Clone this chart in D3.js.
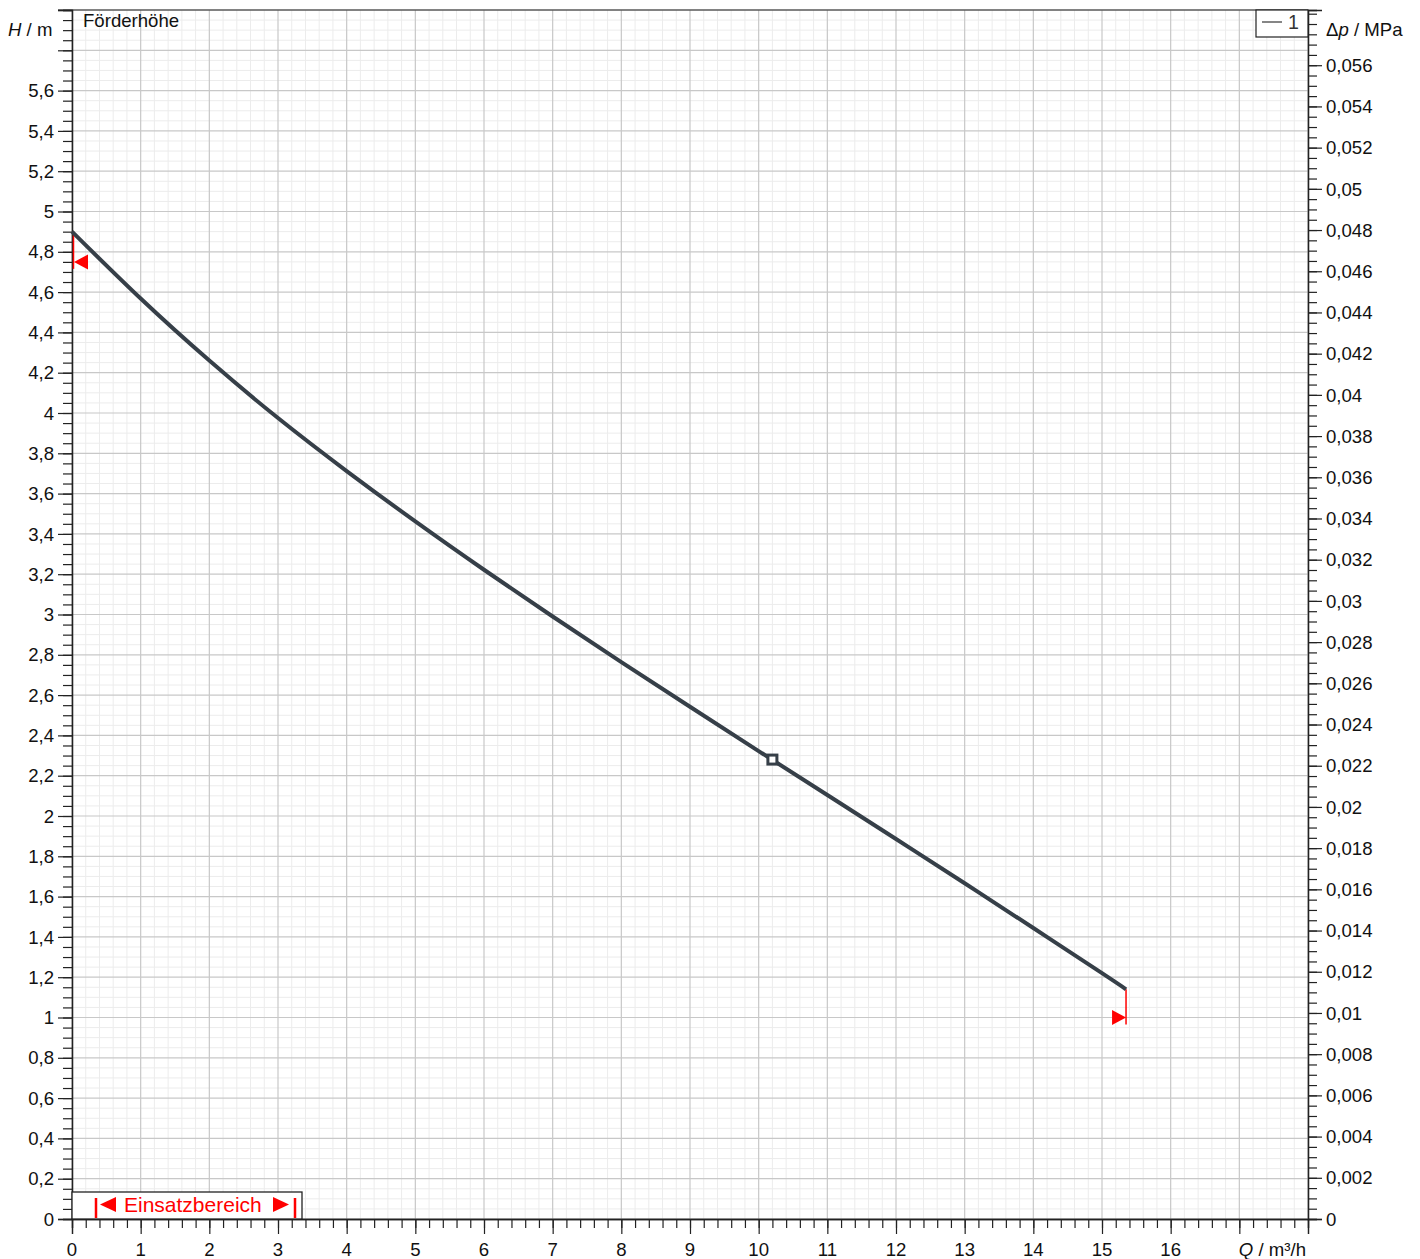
<!DOCTYPE html>
<html><head><meta charset="utf-8">
<script src="https://cdn.jsdelivr.net/npm/d3@7"></script>
<style>body{margin:0;background:#fff}svg{display:block;font-family:"Liberation Sans",Arial,sans-serif}</style>
</head><body><svg id="c" width="1420" height="1259"></svg>
<script>
// Data
const flowQ = [0, 1, 2, 3, 4, 5, 6, 7, 8, 9, 10, 11, 12, 13, 14, 15, 15.35];
const headH = [4.90, 4.568, 4.26, 3.975, 3.712, 3.462, 3.222, 2.99, 2.764, 2.542, 2.322, 2.104, 1.886, 1.666, 1.444, 1.22, 1.14];
const dutyPoint = [10.2, 2.28];
const rangeMin = {q: 0, h: 4.75};
const rangeMax = {q: 15.35, h: 1.0};
const xTickLabels = [0,1,2,3,4,5,6,7,8,9,10,11,12,13,14,15,16];
const yTickLabels = [0,0.2,0.4,0.6,0.8,1,1.2,1.4,1.6,1.8,2,2.2,2.4,2.6,2.8,3,3.2,3.4,3.6,3.8,4,4.2,4.4,4.6,4.8,5,5.2,5.4,5.6];
const pTickLabels = d3.range(0, 29).map(i => +(i*0.002).toFixed(3));
const MPA_PER_M = 0.00978;

const svg = d3.select("#c");
const L=72, R=1308, T=10, B=1219;
const x = d3.scaleLinear([0,18],[L,R]);
const y = d3.scaleLinear([0,6],[B,T]);
const y2 = d3.scaleLinear([0,6*MPA_PER_M],[B,T]);
const fmt = v => String(+v.toFixed(3)).replace(".", ",");
const FS = 18.6;

// grid minor
const g = svg.append("g");
const xMinor = d3.range(0, 90.5).map(i => i*0.2);
const yMinor = d3.range(0, 120.5).map(i => i*0.05);
g.selectAll(".xm").data(xMinor.filter((v,i)=>i%5)).join("line")
  .attr("x1",d=>x(d)).attr("x2",d=>x(d)).attr("y1",T).attr("y2",B).attr("stroke","#ececec").attr("stroke-width",1);
g.selectAll(".ym").data(yMinor.filter((v,i)=>i%4)).join("line")
  .attr("y1",d=>y(d)).attr("y2",d=>y(d)).attr("x1",L).attr("x2",R).attr("stroke","#ececec").attr("stroke-width",1);
// grid major
g.selectAll(".xM").data(d3.range(0,19)).join("line")
  .attr("x1",d=>x(d)).attr("x2",d=>x(d)).attr("y1",T).attr("y2",B).attr("stroke","#c8c8c8").attr("stroke-width",1.2);
g.selectAll(".yM").data(d3.range(0,31).map(i=>i*0.2)).join("line")
  .attr("y1",d=>y(d)).attr("y2",d=>y(d)).attr("x1",L).attr("x2",R).attr("stroke","#c8c8c8").attr("stroke-width",1.2);

// frame
svg.append("line").attr("x1",L-14).attr("x2",R).attr("y1",T).attr("y2",T).attr("stroke","#222").attr("stroke-width",1.2);

// left axis
svg.append("g").attr("transform",`translate(${L},0)`)
  .call(d3.axisLeft(y).tickValues(yMinor).tickSize(9).tickFormat(""));
svg.append("g").attr("transform",`translate(${L},0)`)
  .call(d3.axisLeft(y).tickValues(d3.range(0,31).map(i=>i*0.2)).tickSize(14).tickFormat(""));
// bottom axis
svg.append("g").attr("transform",`translate(0,${B})`)
  .call(d3.axisBottom(x).tickValues(xMinor).tickSize(9).tickFormat(""));
svg.append("g").attr("transform",`translate(0,${B})`)
  .call(d3.axisBottom(x).tickValues(d3.range(0,19)).tickSize(15).tickFormat(""));
// right axis
const pMinor = d3.range(0,118).map(i=>i*0.0005).filter(v=>v<=6*MPA_PER_M);
svg.append("g").attr("transform",`translate(${R},0)`)
  .call(d3.axisRight(y2).tickValues(pMinor).tickSize(9).tickFormat(""));
svg.append("g").attr("transform",`translate(${R},0)`)
  .call(d3.axisRight(y2).tickValues(pTickLabels).tickSize(14).tickFormat(""));
svg.selectAll(".domain").attr("stroke","#222").attr("stroke-width",1.3);
svg.selectAll(".tick line").attr("stroke","#222").attr("stroke-width",1.2);

// labels
const lab = svg.append("g").attr("font-size",FS).attr("fill","#111");
lab.selectAll(".yl").data(yTickLabels).join("text")
  .attr("x",54).attr("y",d=>y(d)).attr("dy","0.36em").attr("text-anchor","end").text(fmt);
lab.selectAll(".pl").data(pTickLabels).join("text")
  .attr("x",1326).attr("y",d=>y2(d)).attr("dy","0.36em").text(fmt);
lab.selectAll(".xl").data(xTickLabels).join("text")
  .attr("x",d=>x(d)).attr("y",1256).attr("text-anchor","middle").text(fmt);

const t1 = lab.append("text").attr("x",8).attr("y",36);
t1.append("tspan").attr("font-style","italic").text("H");
t1.append("tspan").text(" / m");
lab.append("text").attr("x",83).attr("y",27).text("Förderhöhe");
const t2 = lab.append("text").attr("x",1326).attr("y",36);
t2.append("tspan").text("Δ");
t2.append("tspan").attr("font-style","italic").text("p");
t2.append("tspan").text(" / MPa");
const t3 = lab.append("text").attr("x",1306).attr("y",1256).attr("text-anchor","end");
t3.append("tspan").attr("font-style","italic").text("Q");
t3.append("tspan").text(" / m³/h");

// legend
svg.append("rect").attr("x",1256).attr("y",T).attr("width",R-1256).attr("height",27)
  .attr("fill","#fff").attr("stroke","#222").attr("stroke-width",1.2);
svg.append("line").attr("x1",1262).attr("x2",1282).attr("y1",22).attr("y2",22).attr("stroke","#444").attr("stroke-width",1.3);
svg.append("text").attr("x",1288).attr("y",29).attr("font-size",FS+1).attr("fill","#333").text("1");

// range markers (red)
const red = "#ff0000";
svg.append("line").attr("x1",x(rangeMin.q)+1.5).attr("x2",x(rangeMin.q)+1.5)
  .attr("y1",y(headH[0])).attr("y2",y(rangeMin.h)+7).attr("stroke",red).attr("stroke-width",1.5);
svg.append("path").attr("fill",red)
  .attr("d",`M${x(rangeMin.q)+2},${y(rangeMin.h)} L${x(rangeMin.q)+16},${y(rangeMin.h)-7.5} L${x(rangeMin.q)+16},${y(rangeMin.h)+7.5}Z`);
svg.append("line").attr("x1",x(rangeMax.q)).attr("x2",x(rangeMax.q))
  .attr("y1",y(headH[headH.length-1])).attr("y2",y(rangeMax.h)+7).attr("stroke",red).attr("stroke-width",1.5);
svg.append("path").attr("fill",red)
  .attr("d",`M${x(rangeMax.q)},${y(rangeMax.h)} L${x(rangeMax.q)-14},${y(rangeMax.h)-7.5} L${x(rangeMax.q)-14},${y(rangeMax.h)+7.5}Z`);

// curve
const line = d3.line().x(d=>x(d[0])).y(d=>y(d[1])).curve(d3.curveNatural);
svg.append("path").datum(flowQ.map((q,i)=>[q,headH[i]])).attr("d",line)
  .attr("fill","none").attr("stroke","#363f48").attr("stroke-width",4).attr("stroke-linejoin","round");
svg.append("rect").attr("x",x(dutyPoint[0])-4.5).attr("y",y(dutyPoint[1])-4.5).attr("width",9).attr("height",9)
  .attr("fill","#fff").attr("stroke","#363f48").attr("stroke-width",3);

// Einsatzbereich box
svg.append("rect").attr("x",L).attr("y",1192).attr("width",230).attr("height",B-1192)
  .attr("fill","#fff").attr("stroke","#222").attr("stroke-width",1.3);
const eb = svg.append("g");
eb.append("line").attr("x1",96).attr("x2",96).attr("y1",1198).attr("y2",1218).attr("stroke",red).attr("stroke-width",2.5);
eb.append("path").attr("fill",red).attr("d","M100,1204.5 L116,1197 L116,1212Z");
eb.append("text").attr("x",124).attr("y",1212).attr("font-size",21).attr("fill",red).text("Einsatzbereich");
eb.append("path").attr("fill",red).attr("d","M289,1204.5 L273,1197 L273,1212Z");
eb.append("line").attr("x1",295).attr("x2",295).attr("y1",1198).attr("y2",1218).attr("stroke",red).attr("stroke-width",2.5);
</script></body></html>
